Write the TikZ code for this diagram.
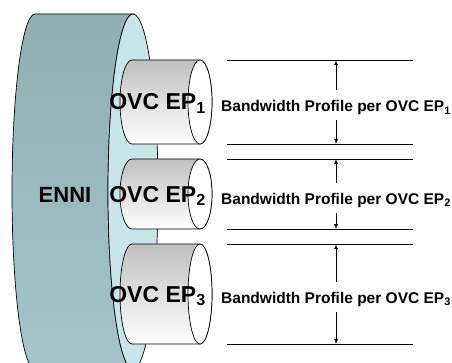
\documentclass[tikz,border=0pt]{standalone}
\usepackage{fontspec}
\setmainfont{Liberation Sans}
\usetikzlibrary{positioning}
\definecolor{enniTop}{RGB}{143,175,176}
\definecolor{enniMid}{RGB}{186,222,226}
\definecolor{enniBot}{RGB}{164,198,202}
\definecolor{enniFace}{RGB}{200,230,233}

\begin{document}
\begin{tikzpicture}[x=1pt, y=1pt, line width=0.7pt,
		ovcbody/.style={draw=black, top color=black!25, middle color=black!22, bottom color=white},
		ovcface/.style={draw=black, fill=white},
		biglabel/.style={anchor=base west, inner sep=0pt, font=\fontsize{23}{26}\selectfont\bfseries},
		bwlabel/.style={anchor=base, inner sep=0pt, text height=21pt, text depth=8.5pt, font=\fontsize{15.5}{18}\selectfont\bfseries},
		bwline/.style={draw=black},
		bwarrow/.style={draw=black, -latex}]
		\useasboundingbox (0,0) rectangle (452,362);
		\clip (0,0) rectangle (452,362);
		
		% ENNI
		\draw[top color=enniTop, middle color=enniMid, bottom color=enniBot] (35,348) -- (133,348) arc[start angle=90, end angle=270, x radius=25, y radius=177.6] -- (35,-7.2) arc[start angle=270, end angle=90, x radius=23, y radius=177.6] -- cycle;
		\draw[fill=enniFace] (133,170.4) ellipse [x radius=25, y radius=177.6];
		\node[biglabel, anchor=base, font=\fontsize{22}{26}\selectfont\bfseries] (enni) at (65,159.5) {ENNI};
		
		% OVC EP 1
		\draw[ovcbody] (132,302) -- (200,302) arc[start angle=90, end angle=-90, x radius=12, y radius=42] -- (132,218) arc[start angle=270, end angle=90, x radius=12, y radius=42] -- cycle;
		\draw[ovcface] (200,260) ellipse [x radius=12, y radius=42];
		\node[biglabel] (ep1) at (109,252) {OVC EP\textsubscript{1}};
		
		% OVC EP 2
		\draw[ovcbody] (132,203) -- (200,203) arc[start angle=90, end angle=-90, x radius=12, y radius=35] -- (132,133) arc[start angle=270, end angle=90, x radius=12, y radius=35] -- cycle;
		\draw[ovcface] (200,168) ellipse [x radius=12, y radius=35];
		\node[biglabel] (ep2) at (109,160) {OVC EP\textsubscript{2}};
		
		% OVC EP 3
		\draw[ovcbody] (132,118) -- (200,118) arc[start angle=90, end angle=-90, x radius=12, y radius=50] -- (132,18) arc[start angle=270, end angle=90, x radius=12, y radius=50] -- cycle;
		\draw[ovcface] (200,68) ellipse [x radius=12, y radius=50];
		\node[biglabel] (ep3) at (109,60) {OVC EP\textsubscript{3}};
		
		% limits
		\draw[bwline] (227,302) coordinate (t1) -- (413,302);
		\draw[bwline] (227,218) coordinate (b1) -- (413,218);
		\draw[bwline] (227,203) coordinate (t2) -- (413,203);
		\draw[bwline] (227,133) coordinate (b2) -- (413,133);
		\draw[bwline] (227,118) coordinate (t3) -- (413,118);
		\draw[bwline] (227,18) coordinate (b3) -- (413,18);
		
		% bandwidth profiles
		\node[bwlabel] (bw1) at (336,250.5) {Bandwidth Profile per OVC EP\textsubscript{1}};
		\draw[bwarrow] (bw1.north) -- (bw1.north |- t1);
		\draw[bwarrow] (bw1.south) -- (bw1.south |- b1);
		
		\node[bwlabel] (bw2) at (336,158) {Bandwidth Profile per OVC EP\textsubscript{2}};
		\draw[bwarrow] (bw2.north) -- (bw2.north |- t2);
		\draw[bwarrow] (bw2.south) -- (bw2.south |- b2);
		
		\node[bwlabel] (bw3) at (336,59) {Bandwidth Profile per OVC EP\textsubscript{3}};
		\draw[bwarrow] (bw3.north) -- (bw3.north |- t3);
		\draw[bwarrow] (bw3.south) -- (bw3.south |- b3);
\end{tikzpicture}
\end{document}
